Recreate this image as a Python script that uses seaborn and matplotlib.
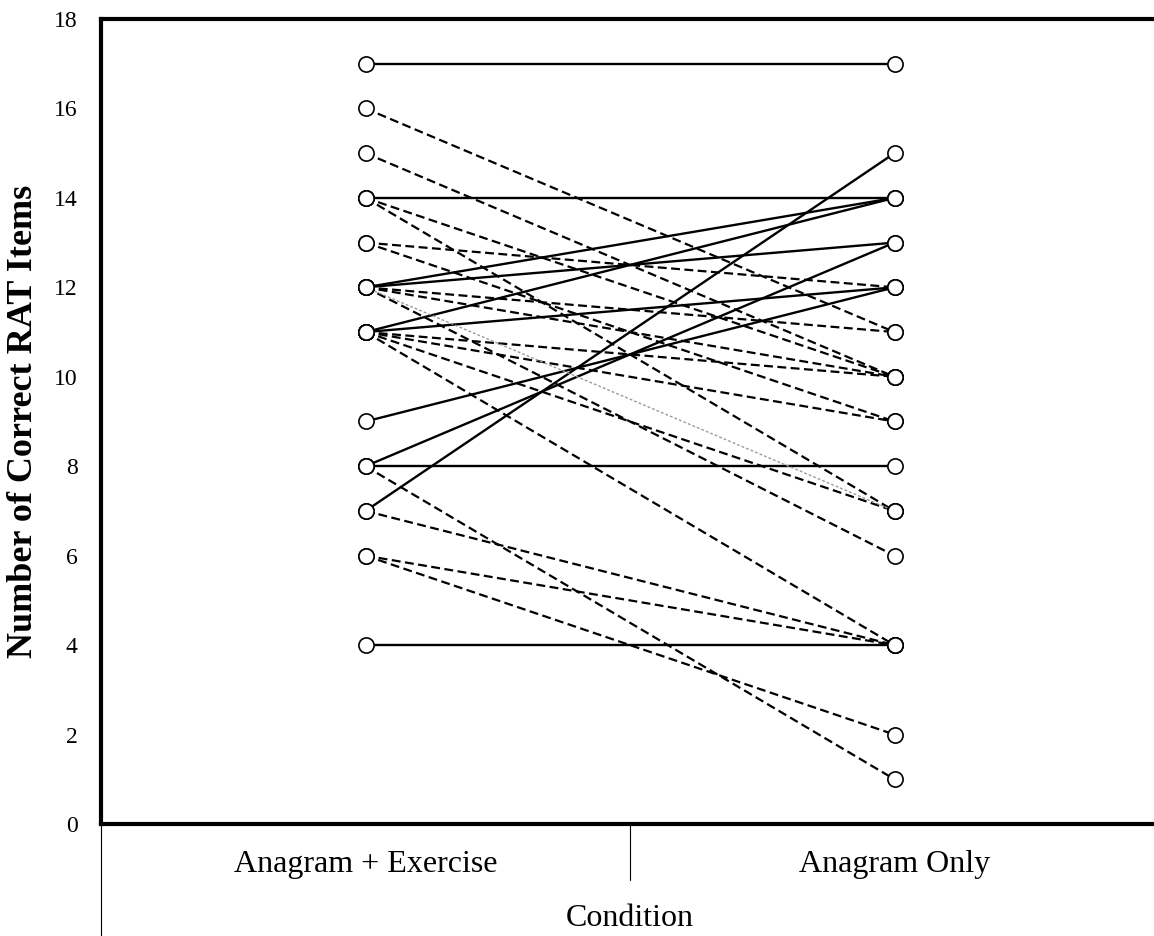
import numpy as np
import pandas as pd
import matplotlib
matplotlib.use('Agg')
import matplotlib.pyplot as plt
import seaborn as sns

conditions = ['Anagram + Exercise', 'Anagram Only']

# RAT scores per participant
with_exercise = [17, 14, 12, 12, 11, 11, 9, 8, 7, 8, 4,
                 16, 15, 14, 14, 13, 13, 12, 12, 12, 11, 11, 11, 11, 8, 7, 6, 6,
                 12]
anagram_only = [17, 14, 14, 13, 14, 12, 12, 13, 15, 8, 4,
                11, 10, 10, 7, 12, 9, 11, 10, 6, 10, 9, 7, 4, 1, 4, 4, 2,
                7]
line_kind = ['same or up'] * 11 + ['down'] * 17 + ['faint']

y_ticks = list(range(0, 19, 2))


def build_long_frame():
    rows = []
    for pid, (a, b, kind) in enumerate(zip(with_exercise, anagram_only, line_kind)):
        rows.append({'pid': pid, 'pos': 0, 'score': a, 'kind': kind})
        rows.append({'pid': pid, 'pos': 1, 'score': b, 'kind': kind})
    return pd.DataFrame(rows)


def plot_pairs(df):
    sns.set_style('white')
    plt.rcParams['font.family'] = ['Liberation Serif', 'DejaVu Serif']
    for key in ['text.color', 'axes.labelcolor', 'xtick.color', 'ytick.color']:
        plt.rcParams[key] = 'black'

    fig = plt.figure(figsize=(11.54, 9.36), dpi=100)
    ax = fig.add_axes([101 / 1154, 112 / 936, 1058 / 1154, 805 / 936])

    sns.lineplot(data=df, x='pos', y='score', units='pid', estimator=None,
                 hue='kind', style='kind', size='kind',
                 palette={'same or up': 'black', 'down': 'black', 'faint': '#9a9a9a'},
                 dashes={'same or up': '', 'down': (4, 2), 'faint': (2, 1.5)},
                 sizes={'same or up': 1.7, 'down': 1.6, 'faint': 1.0},
                 sort=False, legend=False, ax=ax)

    sns.scatterplot(data=df, x='pos', y='score', marker='o', s=120,
                    facecolor='white', edgecolor='black', linewidth=1.2,
                    zorder=5, legend=False, ax=ax)

    ax.set_xlim(-0.5, 1.5)
    ax.set_ylim(0, 18)
    ax.set_yticks(y_ticks)
    ax.set_xticks([0, 1])
    ax.set_xticklabels(conditions, fontsize=23)
    ax.tick_params(axis='x', length=0, pad=19)
    ax.tick_params(axis='y', labelsize=17, length=5, width=1, direction='out', pad=12)

    for side in ['left', 'top', 'bottom', 'right']:
        ax.spines[side].set_linewidth(3)
        ax.spines[side].set_color('black')

    ax.set_ylabel('Number of Correct RAT Items', fontsize=26, fontweight='bold')
    ax.yaxis.set_label_coords(-0.058, 0.5)
    ax.set_xlabel('Condition', fontsize=23)
    ax.xaxis.set_label_coords(0.5, -0.1)

    # category separators below the x axis
    ax.plot([0.5, 0.5], [0, -56 / 805], color='black', lw=0.8,
            transform=ax.transAxes, clip_on=False)
    ax.plot([0, 0], [0, -112 / 805], color='black', lw=0.8,
            transform=ax.transAxes, clip_on=False)

    fig.savefig('out.png', dpi=100)
    plt.close(fig)


if __name__ == "__main__":
    df = build_long_frame()
    plot_pairs(df)
